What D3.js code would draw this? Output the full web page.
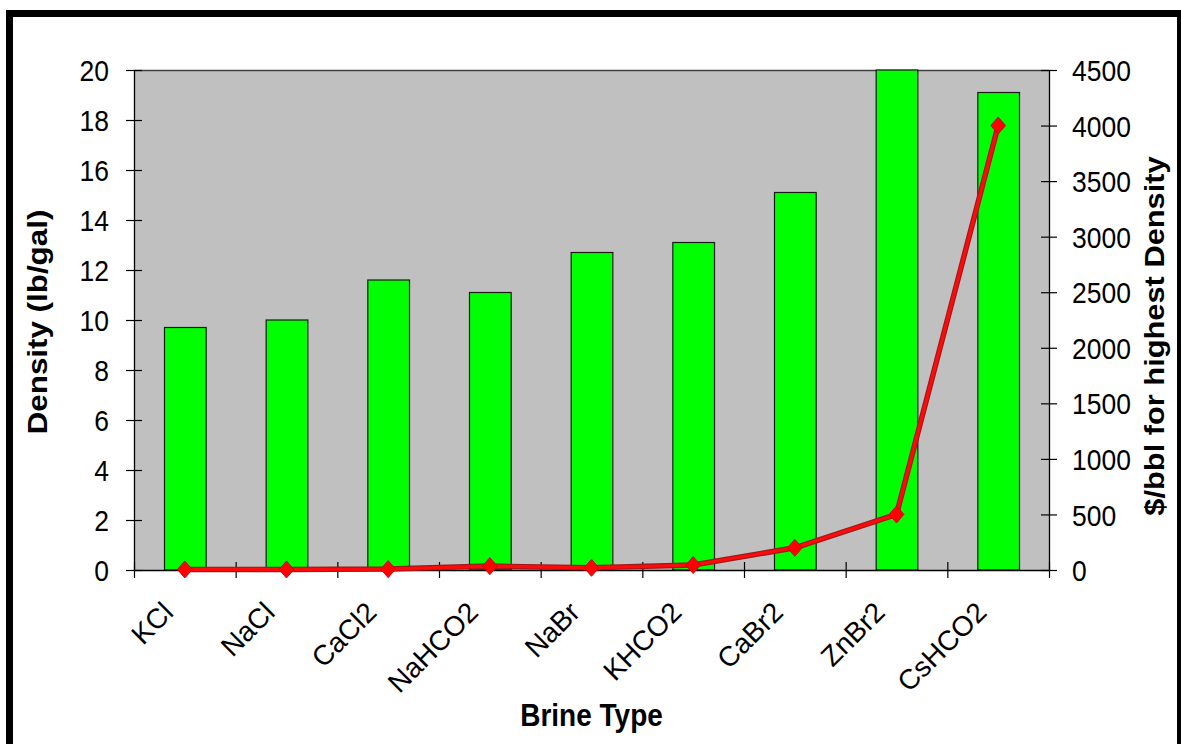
<!DOCTYPE html>
<html>
<head>
<meta charset="utf-8">
<script src="https://cdn.jsdelivr.net/npm/d3@7"></script>
<style>
  html, body { margin: 0; padding: 0; background: #fff; }
  svg { display: block; }
  text { font-family: "Liberation Sans", Arial, sans-serif; fill: #000; }
</style>
</head>
<body>
<svg id="chart" width="1181" height="744"></svg>
<script>
// Brine types and their properties
const categories = ["KCl", "NaCl", "CaCl2", "NaHCO2", "NaBr", "KHCO2", "CaBr2", "ZnBr2", "CsHCO2"];
const density = [9.7, 10.0, 11.6, 11.1, 12.7, 13.1, 15.1, 20.0, 19.1];      // lb/gal
const costPerBbl = [5, 5, 8, 35, 20, 45, 200, 500, 4000];                     // $/bbl at highest density
const densityTicks = [0, 2, 4, 6, 8, 10, 12, 14, 16, 18, 20];
const costTicks = [0, 500, 1000, 1500, 2000, 2500, 3000, 3500, 4000, 4500];

const svg = d3.select("#chart");
const W = 1181, H = 744;
const plot = { left: 134, right: 1049, top: 70, bottom: 570 };
const stretch = 1.12; // vertical stretch of lettering

svg.append("rect").attr("width", W).attr("height", H).attr("fill", "#fff");

// outer frame
svg.append("rect")
  .attr("x", 9.5).attr("y", 13.5)
  .attr("width", 1171).attr("height", 800)
  .attr("fill", "none").attr("stroke", "#000").attr("stroke-width", 7);

const x = d3.scaleBand().domain(categories)
  .range([plot.left, plot.right])
  .paddingInner(0.59).paddingOuter(0.295);
const xEdge = d3.scaleLinear().domain([0, categories.length]).range([plot.left, plot.right]);
const yL = d3.scaleLinear().domain([0, 20]).range([plot.bottom, plot.top]);
const yR = d3.scaleLinear().domain([0, 4500]).range([plot.bottom, plot.top]);

// plot area
svg.append("rect")
  .attr("x", plot.left).attr("y", plot.top)
  .attr("width", plot.right - plot.left).attr("height", plot.bottom - plot.top)
  .attr("fill", "#c0c0c0");
svg.append("line")
  .attr("x1", plot.left).attr("x2", plot.right)
  .attr("y1", plot.top + 0.5).attr("y2", plot.top + 0.5)
  .attr("stroke", "#404040").attr("stroke-width", 1.5);

// density bars
svg.append("g").selectAll("rect").data(categories).join("rect")
  .attr("x", d => x(d) + 0.5)
  .attr("y", (d, i) => yL(density[i]))
  .attr("width", x.bandwidth())
  .attr("height", (d, i) => yL(0) - yL(density[i]))
  .attr("fill", "#00ff00")
  .attr("stroke", "#1a1a1a").attr("stroke-width", 1.2);

function styleAxis(g) {
  g.select(".domain").attr("stroke", "#000").attr("stroke-width", 1.3);
  g.selectAll(".tick line").attr("stroke", "#000").attr("stroke-width", 1.2);
}

// left axis
const gL = svg.append("g").attr("transform", `translate(${plot.left},0)`)
  .call(d3.axisLeft(yL).tickValues(densityTicks).tickSizeOuter(0).tickFormat(d3.format("d")));
styleAxis(gL);
gL.selectAll(".tick line").attr("x1", -8).attr("x2", 8);
gL.selectAll(".tick text")
  .attr("x", null).attr("dy", null)
  .attr("transform", `translate(-25,0) scale(1,${stretch}) translate(0,9.5)`)
  .attr("text-anchor", "end")
  .style("font-size", "26.5px");

// right axis
const gR = svg.append("g").attr("transform", `translate(${plot.right},0)`)
  .call(d3.axisRight(yR).tickValues(costTicks).tickSizeOuter(0).tickFormat(d3.format("d")));
styleAxis(gR);
gR.selectAll(".tick line").attr("x1", -8).attr("x2", 8);
gR.selectAll(".tick text")
  .attr("x", null).attr("dy", null)
  .attr("transform", `translate(23,0) scale(1,${stretch}) translate(0,9.5)`)
  .attr("text-anchor", "start")
  .style("font-size", "26.5px");

// category boundary ticks
const gB = svg.append("g").attr("transform", `translate(0,${plot.bottom})`)
  .call(d3.axisBottom(xEdge).tickValues(d3.range(0, categories.length + 1)).tickSizeOuter(0).tickFormat(""));
styleAxis(gB);
gB.selectAll(".tick line").attr("y1", -8).attr("y2", 8);

// category labels
const gC = svg.append("g").attr("transform", `translate(0,${plot.bottom})`)
  .call(d3.axisBottom(x).tickSize(0));
gC.select(".domain").remove();
gC.selectAll(".tick text")
  .attr("x", null).attr("y", null).attr("dy", null)
  .attr("transform", "translate(-10,44) rotate(-45)")
  .attr("text-anchor", "end")
  .style("font-size", "28px");

// cost line
const cx = d => x(d) + x.bandwidth() / 2;
const line = d3.line().x((d, i) => cx(categories[i])).y(d => yR(d));
svg.append("path").datum(costPerBbl)
  .attr("d", line).attr("fill", "none")
  .attr("stroke", "#a01818").attr("stroke-width", 5.5).attr("stroke-linejoin", "round");
svg.append("path").datum(costPerBbl)
  .attr("d", line).attr("fill", "none")
  .attr("stroke", "#ff0a0a").attr("stroke-width", 3.2).attr("stroke-linejoin", "round");

const diamond = d3.symbol().type(d3.symbolSquare).size(110);
svg.append("g").selectAll("path").data(costPerBbl).join("path")
  .attr("d", diamond)
  .attr("transform", (d, i) => `translate(${cx(categories[i])},${yR(d)}) scale(1,1.15) rotate(45)`)
  .attr("fill", "#ff0000").attr("stroke", "#d00000").attr("stroke-width", 0.8);

// axis titles
svg.append("text")
  .attr("transform", `translate(47,322) scale(1,${stretch}) rotate(-90)`)
  .attr("text-anchor", "middle")
  .style("font-size", "28px").style("font-weight", "bold")
  .text("Density (lb/gal)");

svg.append("text")
  .attr("transform", `translate(1164,336) scale(1,${stretch}) rotate(-90)`)
  .attr("text-anchor", "middle")
  .style("font-size", "27.5px").style("font-weight", "bold")
  .text("$/bbl for highest Density");

svg.append("text")
  .attr("transform", `translate(${(plot.left + plot.right) / 2},726) scale(1,${stretch})`)
  .attr("text-anchor", "middle")
  .style("font-size", "28px").style("font-weight", "bold")
  .text("Brine Type");
</script>
</body>
</html>
